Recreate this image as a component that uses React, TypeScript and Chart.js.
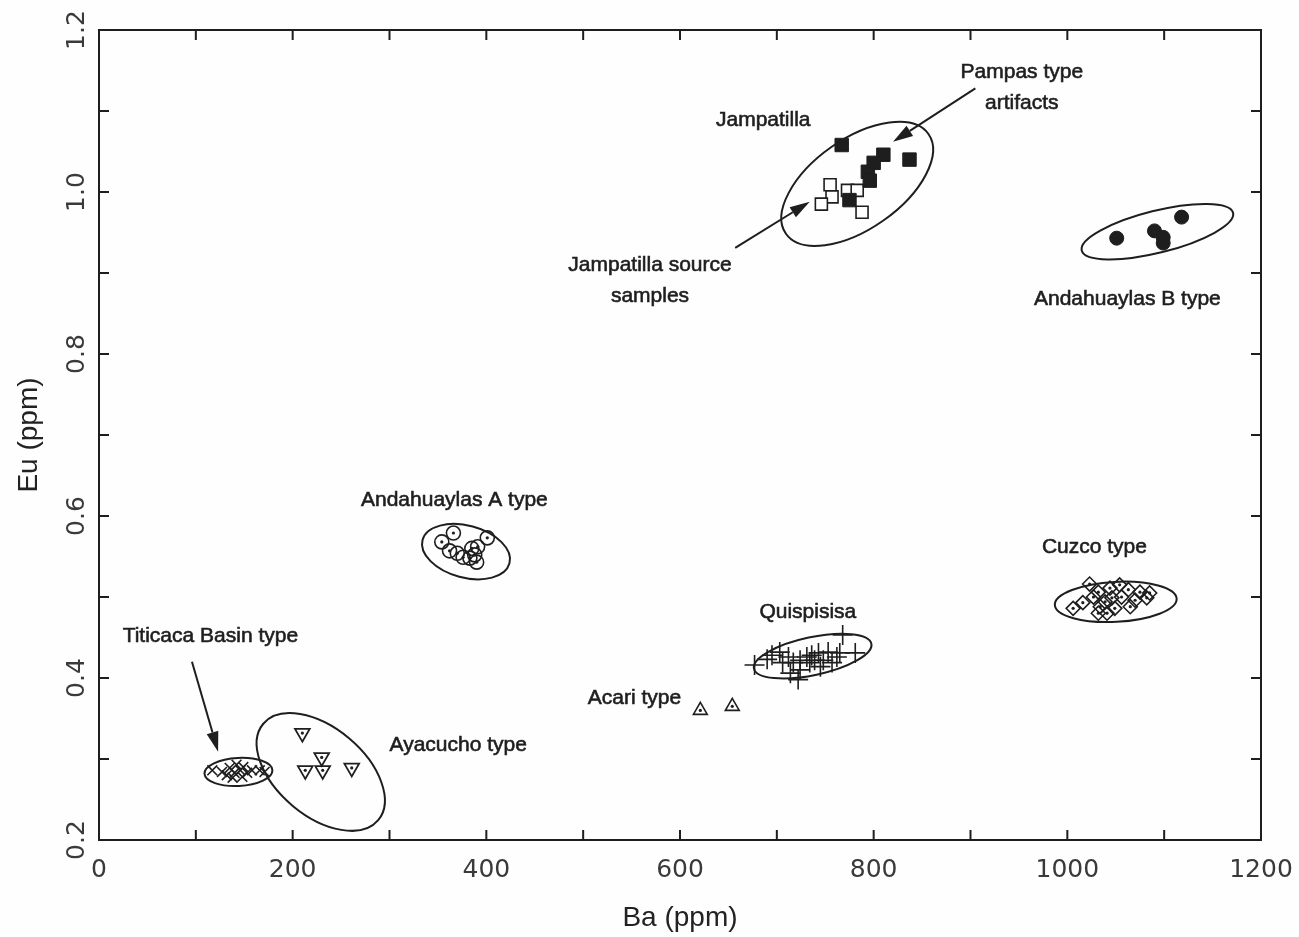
import React, { useEffect, useRef } from "react";
import { Chart, registerables } from "chart.js";

Chart.register(...registerables);

// ---- data (Ba ppm, Eu ppm) ----
const pampasBa = [767, 810, 837, 800, 794, 796, 775];
const pampasEu = [1.058, 1.046, 1.04, 1.036, 1.025, 1.014, 0.99];

const jampSrcBa = [755, 757, 746, 773, 783, 788];
const jampSrcEu = [1.009, 0.994, 0.985, 1.002, 1.002, 0.975];

const andBBa = [1051, 1090, 1099, 1099, 1118];
const andBEu = [0.943, 0.952, 0.944, 0.937, 0.969];

const andABa = [366, 354, 401, 362, 370, 376, 385, 388, 390, 383, 391];
const andAEu = [0.579, 0.568, 0.573, 0.557, 0.554, 0.549, 0.56, 0.552, 0.543, 0.548, 0.562];

const cuzcoBa = [1006, 1016, 1023, 1027, 1032, 1034, 1039, 1044, 1046, 1049, 1054, 1056, 1063, 1065, 1070, 1075, 1082, 1041, 1032, 1085];
const cuzcoEu = [0.486, 0.493, 0.516, 0.5, 0.506, 0.488, 0.494, 0.511, 0.499, 0.486, 0.515, 0.5, 0.509, 0.488, 0.496, 0.506, 0.499, 0.48, 0.48, 0.505];

const quisBa = [677, 690, 695, 703, 706, 712, 714, 717, 722, 724, 731, 734, 739, 743, 745, 748, 753, 757, 762, 768, 765, 781, 724, 736];
const quisEu = [0.416, 0.423, 0.428, 0.432, 0.419, 0.426, 0.406, 0.419, 0.398, 0.422, 0.426, 0.419, 0.422, 0.431, 0.414, 0.422, 0.432, 0.419, 0.426, 0.453, 0.431, 0.431, 0.41, 0.428];

const acariBa = [621, 654];
const acariEu = [0.36, 0.365];

const titiBa = [117, 127, 135, 140, 146, 149, 142, 153, 158, 166, 171, 132, 138, 148];
const titiEu = [0.286, 0.284, 0.289, 0.283, 0.286, 0.29, 0.293, 0.283, 0.286, 0.286, 0.284, 0.28, 0.277, 0.278];

const ayaBa = [210, 230, 213, 231, 261];
const ayaEu = [0.332, 0.302, 0.286, 0.286, 0.289];

// ---- axis ----
const xMin = 0, xMax = 1200, xStep = 100, xLabelEvery = 200;
const yMin = 0.2, yMax = 1.2, yStep = 0.1;

// ---- annotations ----
const labelTexts = [
  ["Pampas type", "artifacts"],
  ["Jampatilla"],
  ["Jampatilla source", "samples"],
  ["Andahuaylas B type"],
  ["Andahuaylas A type"],
  ["Cuzco type"],
  ["Quispisisa"],
  ["Titicaca Basin type"],
  ["Acari type"],
  ["Ayacucho type"],
];
const labelBa = [953, 686, 569, 1062, 367, 1028, 732, 115, 553, 371];
const labelEu = [1.129, 1.089, 0.89, 0.868, 0.619, 0.562, 0.481, 0.452, 0.375, 0.317];

const arrowFromBa = [905, 657, 96];
const arrowFromEu = [1.128, 0.931, 0.42];
const arrowToBa = [820, 734, 123];
const arrowToEu = [1.062, 0.988, 0.309];

const ellipseBa = [783, 1093, 379, 1050, 737, 144, 229];
const ellipseEu = [1.01, 0.951, 0.556, 0.494, 0.427, 0.284, 0.284];
const ellipseRx = [87, 78, 45, 61, 60, 34, 75];
const ellipseRy = [45, 21, 26, 20, 19, 14, 44];
const ellipseRot = [-35, -14, 15, -3, -12, -3, 40];

const INK = "#1e1e1e";
const LABEL_FONT = "21px 'Liberation Sans', Arial, sans-serif";
const TICK_FONT = { family: "'DejaVu Sans', sans-serif", size: 25, weight: "normal" };
const TITLE_FONT = { family: "'Liberation Sans', Arial, sans-serif", size: 28 };

const pts = (xs: number[], ys: number[]) => xs.map((x, i) => ({ x, y: ys[i] }));

const overlayPlugin = {
  id: "overlay",
  afterDatasetsDraw(chart: any) {
    const { ctx, chartArea: a, scales } = chart;
    const xs = scales.x, ys = scales.y;
    ctx.save();
    // frame
    ctx.strokeStyle = INK;
    ctx.lineWidth = 2;
    ctx.strokeRect(a.left, a.top, a.right - a.left, a.bottom - a.top);
    // inward ticks on all sides
    const tl = 10;
    ctx.beginPath();
    xs.ticks.forEach((t: any) => {
      const px = xs.getPixelForValue(t.value);
      if (px <= a.left + 1 || px >= a.right - 1) return;
      ctx.moveTo(px, a.bottom); ctx.lineTo(px, a.bottom - tl);
      ctx.moveTo(px, a.top); ctx.lineTo(px, a.top + tl);
    });
    ys.ticks.forEach((t: any) => {
      const py = ys.getPixelForValue(t.value);
      if (py <= a.top + 1 || py >= a.bottom - 1) return;
      ctx.moveTo(a.left, py); ctx.lineTo(a.left + tl, py);
      ctx.moveTo(a.right, py); ctx.lineTo(a.right - tl, py);
    });
    ctx.stroke();
    // ellipses
    ctx.lineWidth = 2;
    ellipseBa.forEach((b, i) => {
      const cx = xs.getPixelForValue(b);
      const cy = ys.getPixelForValue(ellipseEu[i]);
      ctx.beginPath();
      ctx.ellipse(cx, cy, ellipseRx[i], ellipseRy[i], (ellipseRot[i] * Math.PI) / 180, 0, Math.PI * 2);
      ctx.stroke();
    });
    // arrows
    arrowFromBa.forEach((b, i) => {
      const x0 = xs.getPixelForValue(b), y0 = ys.getPixelForValue(arrowFromEu[i]);
      const x1 = xs.getPixelForValue(arrowToBa[i]), y1 = ys.getPixelForValue(arrowToEu[i]);
      const ang = Math.atan2(y1 - y0, x1 - x0);
      const hl = 20, hw = 6;
      const bx = x1 - hl * Math.cos(ang), by = y1 - hl * Math.sin(ang);
      ctx.beginPath();
      ctx.moveTo(x0, y0); ctx.lineTo(bx, by);
      ctx.lineWidth = 2;
      ctx.stroke();
      ctx.beginPath();
      ctx.moveTo(x1, y1);
      ctx.lineTo(bx + hw * Math.sin(ang), by - hw * Math.cos(ang));
      ctx.lineTo(bx - hw * Math.sin(ang), by + hw * Math.cos(ang));
      ctx.closePath();
      ctx.fillStyle = INK;
      ctx.fill();
    });
    // labels
    ctx.fillStyle = INK;
    ctx.strokeStyle = INK;
    ctx.lineWidth = 0.6;
    ctx.font = LABEL_FONT;
    ctx.textAlign = "center";
    ctx.textBaseline = "middle";
    labelTexts.forEach((lines, i) => {
      const cx = xs.getPixelForValue(labelBa[i]);
      const cy = ys.getPixelForValue(labelEu[i]);
      const lh = 31;
      const start = cy - ((lines.length - 1) * lh) / 2;
      lines.forEach((ln, j) => {
        ctx.fillText(ln, cx, start + j * lh);
        ctx.strokeText(ln, cx, start + j * lh);
      });
    });
    ctx.restore();
  },
};

const bgPlugin = {
  id: "bg",
  beforeDraw(chart: any) {
    const { ctx, width, height } = chart;
    ctx.save();
    ctx.fillStyle = "#fefefe";
    ctx.fillRect(0, 0, width, height);
    ctx.restore();
  },
};

export default function App() {
  const ref = useRef<HTMLCanvasElement | null>(null);
  useEffect(() => {
    document.body.style.margin = "0";
    const canvas = ref.current!;
    const dot = (xs: number[], ys: number[]) => ({
      data: pts(xs, ys),
      pointStyle: "circle",
      pointRadius: 1.6,
      backgroundColor: INK,
      borderColor: INK,
      borderWidth: 0,
    });
    const chart = new Chart(canvas, {
      type: "scatter",
      data: {
        datasets: [
          { label: "Pampas type artifacts", data: pts(pampasBa, pampasEu), pointStyle: "rect", pointRadius: 9.5, backgroundColor: INK, borderColor: INK, borderWidth: 1 },
          { label: "Jampatilla source samples", data: pts(jampSrcBa, jampSrcEu), pointStyle: "rect", pointRadius: 8.5, backgroundColor: "#fefefe", borderColor: INK, borderWidth: 1.6 },
          { label: "Andahuaylas B type", data: pts(andBBa, andBEu), pointStyle: "circle", pointRadius: 7, backgroundColor: INK, borderColor: INK, borderWidth: 1 },
          { label: "Andahuaylas A type", data: pts(andABa, andAEu), pointStyle: "circle", pointRadius: 7, backgroundColor: "rgba(0,0,0,0)", borderColor: INK, borderWidth: 1.6 },
          { label: "Cuzco type", data: pts(cuzcoBa, cuzcoEu), pointStyle: "rectRot", pointRadius: 7, backgroundColor: "rgba(0,0,0,0)", borderColor: INK, borderWidth: 1.6 },
          { label: "Quispisisa", data: pts(quisBa, quisEu), pointStyle: "cross", pointRadius: 10, backgroundColor: INK, borderColor: INK, borderWidth: 1.6 },
          { label: "Acari type", data: pts(acariBa, acariEu), pointStyle: "triangle", pointRadius: 8, backgroundColor: "rgba(0,0,0,0)", borderColor: INK, borderWidth: 1.6 },
          { label: "Titicaca Basin type", data: pts(titiBa, titiEu), pointStyle: "crossRot", pointRadius: 7, backgroundColor: INK, borderColor: INK, borderWidth: 1.6 },
          { label: "Ayacucho type", data: pts(ayaBa, ayaEu), pointStyle: "triangle", rotation: 180, pointRadius: 8.5, backgroundColor: "rgba(0,0,0,0)", borderColor: INK, borderWidth: 1.8 },
          dot(jampSrcBa, jampSrcEu),
          dot(andABa, andAEu),
          dot(cuzcoBa, cuzcoEu),
          dot(acariBa, acariEu),
          dot(ayaBa, ayaEu),
        ] as any,
      },
      options: {
        animation: false,
        responsive: false,
        maintainAspectRatio: false,
        layout: { padding: { top: 30, right: 38, left: 0, bottom: 0 } },
        plugins: { legend: { display: false }, tooltip: { enabled: false } },
        scales: {
          x: {
            type: "linear",
            min: xMin,
            max: xMax,
            afterFit: (s: any) => { s.height = 97; s.paddingLeft = 0; s.paddingRight = 0; },
            ticks: {
              stepSize: xStep,
              autoSkip: false,
              maxRotation: 0,
              padding: 15,
              color: "#3a3a3a",
              font: TICK_FONT,
              callback: (v: any) => (Math.round(v) % xLabelEvery === 0 ? String(Math.round(v)) : ""),
            },
            grid: { display: true, drawOnChartArea: false, drawTicks: false },
            border: { display: false },
            title: { display: true, text: "Ba (ppm)", color: "#222", font: TITLE_FONT, padding: { top: 4, bottom: 2 } },
          },
          y: {
            type: "linear",
            min: yMin,
            max: yMax,
            afterFit: (s: any) => { s.width = 99; s.paddingTop = 0; s.paddingBottom = 0; },
            ticks: {
              stepSize: yStep,
              autoSkip: false,
              minRotation: 90,
              maxRotation: 90,
              crossAlign: "center",
              padding: 2,
              color: "#3a3a3a",
              font: TICK_FONT,
              callback: (v: any) => (Math.round(v * 10) % 2 === 0 ? (Math.round(v * 10) / 10).toFixed(1) : ""),
            },
            grid: { display: true, drawOnChartArea: false, drawTicks: false },
            border: { display: false },
            title: { display: true, text: "Eu (ppm)", color: "#222", font: TITLE_FONT, padding: { top: 12, bottom: 0 } },
          },
        },
      } as any,
      plugins: [bgPlugin, overlayPlugin],
    });
    return () => chart.destroy();
  }, []);
  return <canvas ref={ref} width={1299} height={937} style={{ display: "block" }} />;
}
